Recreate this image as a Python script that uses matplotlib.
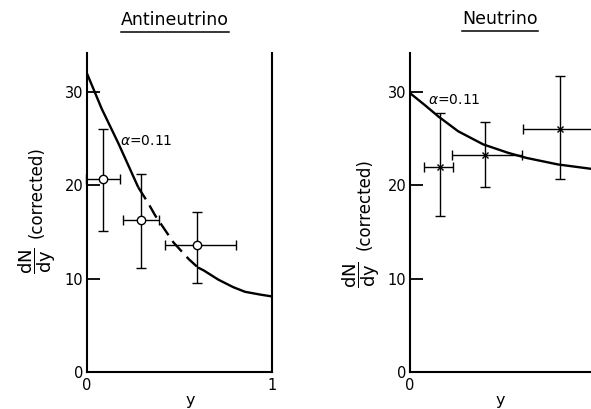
import matplotlib
matplotlib.use('Agg')
import matplotlib.pyplot as plt
import numpy as np
from matplotlib.lines import Line2D

plt.rcParams['font.family'] = ['DejaVu Sans']
plt.rcParams['mathtext.fontset'] = 'dejavusans'

# antineutrino data points (value, lower/upper ends of error bars)
anti_y_pos = [0.085, 0.291, 0.597]
anti_val = [20.7, 16.3, 13.6]
anti_lo = [15.1, 11.1, 9.5]
anti_hi = [26.0, 21.25, 17.2]
anti_left = [-0.005, 0.192, 0.42]
anti_right = [0.178, 0.388, 0.806]

# antineutrino curve, alpha = 0.11
anti_curve_x = [0.0, 0.08, 0.17, 0.277, 0.328, 0.368, 0.467, 0.55, 0.60, 0.63, 0.71, 0.79, 0.854, 0.936, 1.0]
anti_curve_y = [32.0, 28.2, 24.5, 19.8, 18.2, 16.8, 13.9, 12.1, 11.2, 10.9, 9.9, 9.1, 8.6, 8.3, 8.1]

# neutrino data points
nu_y_pos = [0.162, 0.407, 0.81]
nu_val = [22.0, 23.3, 26.1]
nu_lo = [16.7, 19.8, 20.7]
nu_hi = [27.8, 26.8, 31.7]
nu_left = [0.073, 0.226, 0.612]
nu_right = [0.23, 0.607, 1.02]

# neutrino curve, alpha = 0.11
nu_curve_x = [0.0, 0.081, 0.153, 0.261, 0.396, 0.53, 0.63, 0.80, 0.973, 1.0]
nu_curve_y = [29.9, 28.6, 27.4, 25.8, 24.4, 23.5, 22.95, 22.25, 21.8, 21.7]

yticks = [0, 10, 20, 30]
anti_xticks = [0, 1]
nu_xticks = [0]

fig = plt.figure(figsize=(5.91, 4.09), dpi=100)
ax1 = fig.add_axes([87/591, 37/409, 185/591, 319/409])
ax2 = fig.add_axes([410/591, 37/409, 185/591, 319/409])


def style_axes(ax, right_spine, xticks):
    ax.set_xlim(0, 1)
    ax.set_ylim(0, 34.2)
    ax.spines['top'].set_visible(False)
    ax.spines['right'].set_visible(right_spine)
    for s in ax.spines.values():
        s.set_linewidth(1.5)
    ax.set_yticks(yticks)
    ax.set_yticklabels([str(t) for t in yticks])
    ax.set_xticks(xticks)
    ax.set_xticklabels([str(t) for t in xticks])
    ax.tick_params(axis='y', direction='in', length=9.5, width=1.3, pad=2.5, labelsize=10.5)
    ax.tick_params(axis='x', length=0, pad=4, labelsize=10.5)
    ax.set_xlabel('y', fontsize=11.5)


def ylabel(ax, frac_xy, word_xy):
    # dN/dy fraction and "(corrected)" drawn as two rotated texts
    ax.text(frac_xy[0], frac_xy[1], r'$\dfrac{\mathrm{dN}}{\mathrm{dy}}$', transform=ax.transAxes,
            rotation=90, ha='center', va='center', fontsize=13)
    ax.text(word_xy[0], word_xy[1], '(corrected)', transform=ax.transAxes,
            rotation=90, ha='center', va='center', fontsize=12)


def draw_points(ax, xs, val, lo, hi, left, right, marker, ms):
    xs = np.array(xs)
    val = np.array(val)
    yerr = [val - np.array(lo), np.array(hi) - val]
    xerr = [xs - np.array(left), np.array(right) - xs]
    ax.errorbar(xs, val, yerr=yerr, xerr=xerr, fmt='none', ecolor='black',
                elinewidth=1.0, capsize=3.5, capthick=1.0, zorder=3, clip_on=False)
    if marker == 'o':
        ax.plot(xs, val, 'o', ms=ms, mfc='white', mec='black', mew=1.0, zorder=4)
    else:
        ax.plot(xs, val, 'x', ms=ms, color='black', mew=1.0, zorder=4)


def underline_title(ax, text):
    fig.canvas.draw()
    bb = text.get_window_extent()
    x0, x1 = bb.x0 / fig.bbox.width, bb.x1 / fig.bbox.width
    yy = (bb.y0 - 3) / fig.bbox.height
    fig.add_artist(Line2D([x0, x1], [yy, yy], color='black', lw=1.1))


# left panel: antineutrino
style_axes(ax1, True, anti_xticks)
cx = np.array(anti_curve_x)
cy = np.array(anti_curve_y)
ax1.plot(cx[:4], cy[:4], color='black', lw=1.7, solid_capstyle='butt')
ax1.plot(cx[3:9], cy[3:9], color='black', lw=1.7, linestyle=(0, (6, 3)))
ax1.plot(cx[8:], cy[8:], color='black', lw=1.7, solid_capstyle='butt')
draw_points(ax1, anti_y_pos, anti_val, anti_lo, anti_hi, anti_left, anti_right, 'o', 6)
ax1.text(0.178, 24.8, r'$\alpha$=0.11', fontsize=10, ha='left', va='center')
ax1.xaxis.set_label_coords(0.557, -0.065)
ylabel(ax1, (-0.27, 0.35), (-0.27, 0.565))
t1 = ax1.text(0.476, 1.103, 'Antineutrino', transform=ax1.transAxes,
              ha='center', va='center', fontsize=12.5)

# right panel: neutrino
style_axes(ax2, False, nu_xticks)
ax2.plot(nu_curve_x, nu_curve_y, color='black', lw=1.7)
draw_points(ax2, nu_y_pos, nu_val, nu_lo, nu_hi, nu_left, nu_right, 'x', 4)
ax2.text(0.096, 29.2, r'$\alpha$=0.11', fontsize=10, ha='left', va='center')
ax2.xaxis.set_label_coords(0.486, -0.065)
ylabel(ax2, (-0.265, 0.305), (-0.245, 0.525))
t2 = ax2.text(0.486, 1.108, 'Neutrino', transform=ax2.transAxes,
              ha='center', va='center', fontsize=12.5)

underline_title(ax1, t1)
underline_title(ax2, t2)

fig.savefig('out.png', dpi=100)
